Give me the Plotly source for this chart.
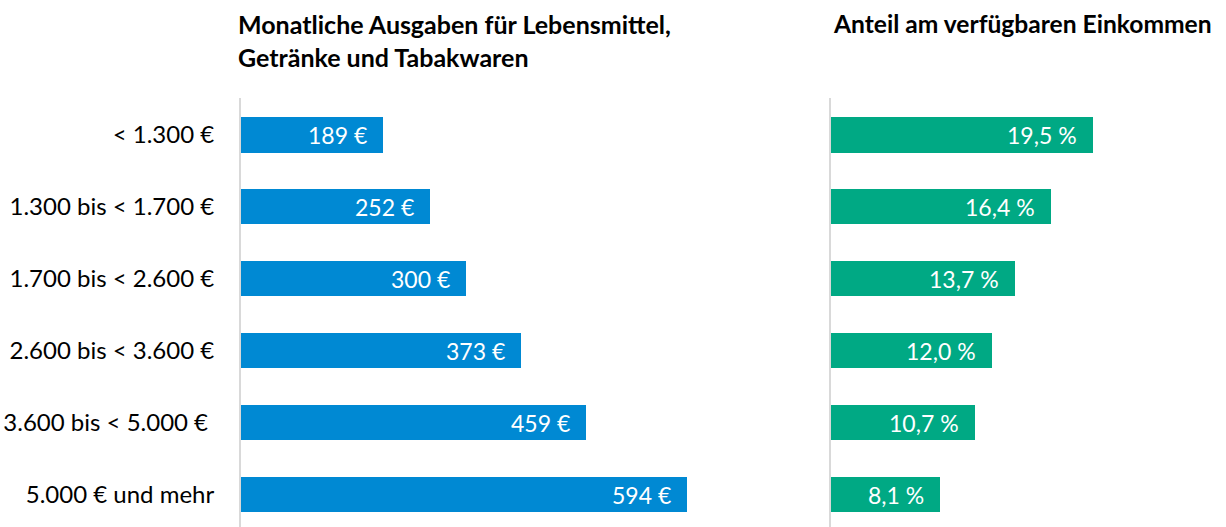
import plotly.graph_objects as go

categories = ["< 1.300 €", "1.300 bis < 1.700 €", "1.700 bis < 2.600 €",
              "2.600 bis < 3.600 €", "3.600 bis < 5.000 €\u00a0", "5.000 € und mehr"]
ausgaben = [189, 252, 300, 373, 459, 594]
anteil = [19.5, 16.4, 13.7, 12.0, 10.7, 8.1]
ausgaben_labels = [f"{v} €" for v in ausgaben]
anteil_labels = [f"{v:.1f} %".replace(".", ",") for v in anteil]
title_left = "Monatliche Ausgaben für Lebensmittel,<br>Getränke und Tabakwaren"
title_right = "Anteil am verfügbaren Einkommen"

W, H = 1226, 527
BLUE = "#0089D3"
GREEN = "#00A984"
FONT = "Lato"
ypos = list(range(len(categories)))

left_x0 = 241
left_x1 = 700
right_x0 = 831
top = 97.5
row0 = 134.5
plot_h = H - top

fig = go.Figure()
fig.add_trace(go.Bar(x=ausgaben, y=ypos, orientation="h", marker_color=BLUE,
                     marker_line_width=0, width=0.49, xaxis="x", yaxis="y",
                     hoverinfo="skip"))
fig.add_trace(go.Bar(x=anteil, y=ypos, orientation="h", marker_color=GREEN,
                     marker_line_width=0, width=0.49, xaxis="x2", yaxis="y2",
                     hoverinfo="skip"))

annotations = []
for yi, v, t in zip(ypos, ausgaben, ausgaben_labels):
    annotations.append(dict(x=v, y=yi, xref="x", yref="y", text=t, showarrow=False,
                            xanchor="right", xshift=-14,
                            font=dict(family=FONT, size=23, color="white")))
for yi, v, t in zip(ypos, anteil, anteil_labels):
    annotations.append(dict(x=v, y=yi, xref="x2", yref="y2", text=t, showarrow=False,
                            xanchor="right", xshift=-14,
                            font=dict(family=FONT, size=23, color="white")))
title_top = 6
annotations.append(dict(x=236 / W, y=1 + (top - title_top) / plot_h,
                        xref="paper", yref="paper",
                        text="<b>" + title_left.replace("<br>", "</b><br><b>") + "</b>",
                        showarrow=False, xanchor="left", yanchor="top", align="left",
                        font=dict(family=FONT, size=25, color="black")))
annotations.append(dict(x=831 / W, y=1 + (top - title_top) / plot_h,
                        xref="paper", yref="paper",
                        text="<b>" + title_right + "</b>",
                        showarrow=False, xanchor="left", yanchor="top", align="left",
                        font=dict(family=FONT, size=24.6, color="black")))

yrange = [5 + (H - (row0 + 5 * 72)) / 72, -0.5 - (row0 - 36 - top) / 72]
fig.update_layout(
    width=W, height=H,
    margin=dict(l=0, r=0, t=top, b=0, autoexpand=False),
    paper_bgcolor="white", plot_bgcolor="white",
    showlegend=False, bargap=0,
    annotations=annotations,
    xaxis=dict(domain=[left_x0 / W, left_x1 / W], range=[0, (left_x1 - left_x0) / 0.7513],
               showgrid=False, zeroline=False, showticklabels=False, showline=False,
               automargin=False),
    xaxis2=dict(domain=[right_x0 / W, 1.0], range=[0, (W - right_x0) / 13.44],
                showgrid=False, zeroline=False, showticklabels=False, showline=False,
                automargin=False),
    yaxis=dict(range=yrange, tickvals=ypos, ticktext=categories,
               showline=True, linecolor="#D9D9D9", linewidth=2,
               ticks="", ticklabelstandoff=20, showgrid=False, zeroline=False,
               tickfont=dict(family=FONT, size=24, color="black"), anchor="x",
               automargin=False),
    yaxis2=dict(range=yrange, showticklabels=False, anchor="x2",
                showline=True, linecolor="#D9D9D9", linewidth=2,
                ticks="", showgrid=False, zeroline=False, automargin=False),
)

fig.write_html(
    "out.html",
    config={"displayModeBar": False},
    post_script="document.body.style.margin='0';document.body.style.overflow='hidden';",
)
